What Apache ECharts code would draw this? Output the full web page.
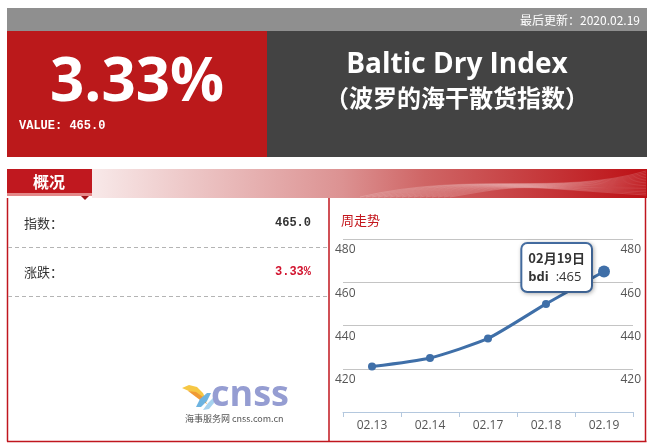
<!DOCTYPE html>
<html>
<head>
<meta charset="utf-8">
<title>BDI</title>
<script src="https://cdn.jsdelivr.net/npm/echarts@6/dist/echarts.min.js"></script>
<style>
  html, body { margin: 0; padding: 0; background: #fff; }
  #main { width: 653px; height: 448px; }
</style>
</head>
<body>
<div id="main"></div>
<script>
// Weekly Baltic Dry Index readings
const dates = ['02.13', '02.14', '02.17', '02.18', '02.19'];
const bdi = [421, 425, 434, 450, 465];
const updated = '2020.02.19';
// value axis ticks
const yMin = 400, yMax = 480, yStep = 20;

const last = bdi[bdi.length - 1];
const prev = bdi[bdi.length - 2];
const changePct = ((last - prev) / prev * 100).toFixed(2) + '%';
const lastDateLabel = dates[dates.length - 1].replace('.', '月') + '日';

const CJK = '"Noto Sans CJK SC", sans-serif';
const MONO = '"Liberation Mono", monospace';

function txt(x, y, text, style) {
  return {
    type: 'text', x: x, y: y, silent: true,
    style: Object.assign({ text: text, fill: '#fff', fontFamily: CJK, fontSize: 12,
      align: 'left', verticalAlign: 'middle' }, style)
  };
}
function hline(x1, x2, y, stroke, w, dash) {
  return { type: 'line', silent: true,
    shape: { x1: x1, y1: y, x2: x2, y2: y },
    style: { stroke: stroke, lineWidth: w, lineDash: dash || null } };
}
function vline(x, y1, y2, stroke, w) {
  return { type: 'line', silent: true,
    shape: { x1: x, y1: y1, x2: x, y2: y2 },
    style: { stroke: stroke, lineWidth: w } };
}

// decorative waves across the section banner
const waves = [];
for (let i = 0; i < 16; i++) {
  waves.push({
    type: 'bezierCurve', silent: true,
    shape: { x1: 360 + i * 6, y1: 197, cpx1: 470 + i * 4, cpy1: 171 + i * 0.8,
             cpx2: 560 - i * 3, cpy2: 196 - i * 0.6, x2: 646, y2: 171 + i * 1.6 },
    style: { stroke: 'rgba(255,255,255,0.22)', lineWidth: 0.8, fill: null }
  });
}

const graphics = [
  // header bars
  { type: 'rect', silent: true, shape: { x: 7, y: 8, width: 640, height: 23 }, style: { fill: '#8f8f8f' } },
  txt(640, 20, '最后更新：' + updated, { align: 'right', fontSize: 12 }),
  { type: 'rect', silent: true, shape: { x: 7, y: 31, width: 260, height: 126 }, style: { fill: '#bb191b' } },
  { type: 'rect', silent: true, shape: { x: 267, y: 31, width: 380, height: 126 }, style: { fill: '#434343' } },
  txt(137, 84, changePct, { align: 'center', fontSize: 60, fontWeight: 'bold', fontFamily: '"Open Sans", sans-serif' }),
  txt(19, 126, 'VALUE: ' + last.toFixed(1), { fontSize: 12, fontWeight: 'bold', fontFamily: MONO }),
  txt(457, 65, 'Baltic Dry Index', { align: 'center', fontSize: 28, fontWeight: 'bold', fontFamily: '"Open Sans", sans-serif' }),
  txt(457, 98, '（波罗的海干散货指数）', { align: 'center', fontSize: 24, fontWeight: 'bold' }),

  // section banner
  { type: 'rect', silent: true, shape: { x: 92, y: 169, width: 555, height: 29 },
    style: { fill: new echarts.graphic.LinearGradient(0, 0, 1, 0, [
      { offset: 0, color: '#f8e9e9' },
      { offset: 0.45, color: '#dc9292' },
      { offset: 0.6, color: '#cf6565' },
      { offset: 1, color: '#bd1015' }]) } }
].concat(waves).concat([
  { type: 'rect', silent: true, shape: { x: 7, y: 169, width: 85, height: 24 }, style: { fill: '#c0181f' } },
  { type: 'rect', silent: true, shape: { x: 7, y: 193, width: 85, height: 3 }, style: { fill: '#e48888' } },
  { type: 'polygon', silent: true, shape: { points: [[81, 196], [89, 196], [85, 200]] }, style: { fill: '#9e1217' } },
  txt(49, 182, '概况', { align: 'center', fontSize: 16, fontWeight: 'bold' }),

  // panel frame
  vline(7.5, 198, 441.5, '#c0161e', 1.5),
  vline(329, 198, 441.5, '#c0161e', 1.5),
  vline(645.5, 198, 441.5, '#c0161e', 1.5),
  hline(7, 646.5, 441.5, '#c0161e', 1.5),

  // summary rows
  txt(24, 223, '指数：', { fill: '#333', fontSize: 13 }),
  txt(311, 223, last.toFixed(1), { fill: '#333', fontSize: 12, align: 'right', fontFamily: MONO, fontWeight: 'bold' }),
  hline(8, 329, 247.5, '#b4b4b4', 1, [4, 3]),
  txt(24, 272, '涨跌：', { fill: '#333', fontSize: 13 }),
  txt(311, 272, changePct, { fill: '#d2142f', fontSize: 12, align: 'right', fontFamily: MONO, fontWeight: 'bold' }),
  hline(8, 329, 296.5, '#b4b4b4', 1, [4, 3]),

  // site logo
  { type: 'polygon', silent: true, shape: { points: [[182, 388], [189, 385], [197, 387], [203, 393], [207, 402], [199, 396], [191, 392]] }, style: { fill: '#f6c744' } },
  { type: 'polygon', silent: true, shape: { points: [[188, 391], [196, 392], [203, 397], [207, 404], [200, 400]] }, style: { fill: '#f09a35' } },
  { type: 'polygon', silent: true, shape: { points: [[196, 407], [200, 399], [207, 393], [211, 393], [207, 401], [201, 407]] }, style: { fill: '#6db3e0' } },
  { type: 'polygon', silent: true, shape: { points: [[203, 410], [208, 403], [214, 397], [214, 403], [209, 409]] }, style: { fill: '#a7d3ef' } },
  txt(211, 396, 'cnss', { fill: '#959dd2', fontSize: 36, fontWeight: 'bold', fontFamily: '"Open Sans", sans-serif' }),
  txt(185, 419, '海事服务网 cnss.com.cn', { fill: '#555', fontSize: 9 }),

  // chart caption
  txt(341, 220, '周走势', { fill: '#c3161c', fontSize: 13 })
]);

const chart = echarts.init(document.getElementById('main'), null, { renderer: 'canvas' });

const axisLabelBase = {
  color: '#555', fontSize: 12, fontFamily: '"Open Sans", sans-serif',
  verticalAlign: 'top', padding: [5, 0, 0, 0], showMinLabel: false
};

chart.setOption({
  animation: false,
  graphic: { elements: graphics },
  grid: { left: 343, right: 20, top: 239, bottom: 36, containLabel: false },
  xAxis: {
    type: 'category',
    data: dates,
    boundaryGap: true,
    axisLine: { lineStyle: { color: '#b4c8de', width: 1 } },
    axisTick: { show: true, length: 5, lineStyle: { color: '#b4c8de' } },
    axisLabel: { color: '#555', fontSize: 12, margin: 8, fontFamily: '"Open Sans", sans-serif' },
    splitLine: { show: false }
  },
  yAxis: [
    {
      type: 'value', min: yMin, max: yMax, interval: yStep, position: 'left',
      axisLine: { show: false }, axisTick: { show: false },
      axisLabel: Object.assign({}, axisLabelBase, { align: 'left', margin: 8 }),
      splitLine: { show: true, lineStyle: { color: '#c4c4c4', width: 1 } }
    },
    {
      type: 'value', min: yMin, max: yMax, interval: yStep, position: 'right',
      axisLine: { show: false }, axisTick: { show: false },
      axisLabel: Object.assign({}, axisLabelBase, { align: 'right', margin: 8 }),
      splitLine: { show: false }
    }
  ],
  series: [{
    name: 'bdi',
    type: 'line',
    smooth: 0.2,
    symbol: 'circle',
    symbolSize: 8,
    lineStyle: { color: '#3f6fa8', width: 3 },
    itemStyle: { color: '#3f6fa8' },
    data: bdi.map(function (v, i) {
      if (i !== bdi.length - 1) return v;
      return {
        value: v,
        symbolSize: 12,
        label: {
          show: true,
          position: 'left',
          distance: 7,
          offset: [0, -4],
          align: 'right',
          backgroundColor: '#fff',
          borderColor: '#4670a6',
          borderWidth: 2,
          borderRadius: 5,
          padding: [5, 6, 4, 6],
          shadowBlur: 4,
          shadowColor: 'rgba(0,0,0,0.25)',
          shadowOffsetX: 1,
          shadowOffsetY: 1,
          formatter: '{d|' + lastDateLabel + '}\n{b|bdi} {v|:' + v + '}',
          rich: {
            d: { fontSize: 13, fontWeight: 'bold', color: '#333', fontFamily: CJK, lineHeight: 19, align: 'left' },
            b: { fontSize: 13, fontWeight: 'bold', color: '#333', fontFamily: '"Open Sans", sans-serif', lineHeight: 19, align: 'left' },
            v: { fontSize: 13, color: '#333', fontFamily: '"Open Sans", sans-serif', lineHeight: 19, align: 'left' }
          }
        }
      };
    })
  }]
});
</script>
</body>
</html>
